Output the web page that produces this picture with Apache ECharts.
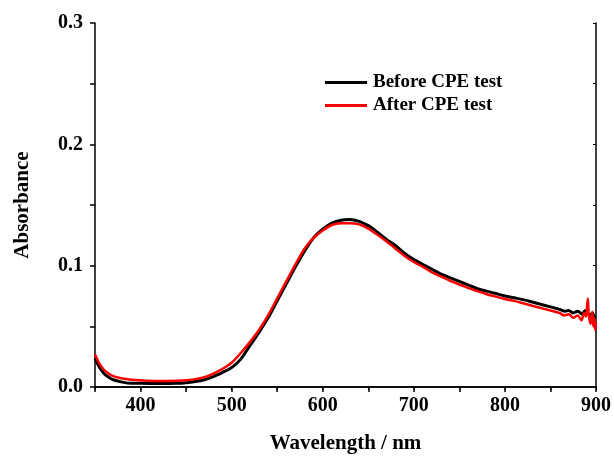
<!DOCTYPE html>
<html>
<head>
<meta charset="utf-8">
<script src="https://cdn.jsdelivr.net/npm/echarts@6/dist/echarts.min.js"></script>
<style>html,body{margin:0;padding:0;background:#fff;}#c{width:614px;height:459px;}</style>
</head>
<body>
<div id="c"></div>
<script>
// Before CPE test (black)
var beforeWl = [350,355,360,365,370,380,390,400,420,440,450,460,470,480,490,500,510,520,530,540,550,560,570,580,590,600,610,620,630,640,650,660,670,680,690,700,710,720,730,740,750,760,770,780,790,800,810,820,830,840,850,860,866,870,875,880,885,888,890,893,896,898,900];
var beforeAbs = [0.024,0.016,0.011,0.008,0.006,0.004,0.003,0.003,0.0028,0.003,0.0035,0.0045,0.006,0.0085,0.012,0.016,0.023,0.034,0.045,0.057,0.071,0.085,0.099,0.112,0.123,0.130,0.135,0.1375,0.138,0.1365,0.133,0.1275,0.1215,0.1165,0.110,0.105,0.101,0.097,0.093,0.090,0.087,0.084,0.081,0.079,0.077,0.075,0.0735,0.072,0.070,0.068,0.066,0.064,0.0625,0.063,0.061,0.0625,0.060,0.063,0.061,0.059,0.061,0.058,0.057];
// After CPE test (red)
var afterWl = [350,355,360,365,370,380,390,400,420,440,450,460,470,480,490,500,510,520,530,540,550,560,570,580,590,600,610,620,630,640,650,660,670,680,690,700,710,720,730,740,750,760,770,780,790,800,810,820,830,840,850,860,865,870,875,880,884,887,889,891,892,894,896,897,898,899,900];
var afterAbs = [0.027,0.019,0.014,0.011,0.009,0.007,0.006,0.0055,0.005,0.0052,0.0055,0.0065,0.008,0.011,0.015,0.020,0.028,0.037,0.047,0.059,0.073,0.087,0.101,0.114,0.123,0.129,0.1335,0.135,0.135,0.134,0.1305,0.1255,0.120,0.114,0.108,0.103,0.099,0.0945,0.091,0.0875,0.0845,0.0815,0.079,0.0765,0.0745,0.0725,0.071,0.069,0.067,0.065,0.063,0.061,0.059,0.060,0.057,0.059,0.055,0.061,0.058,0.073,0.060,0.052,0.062,0.050,0.057,0.047,0.053];
var seriesNames = ['Before CPE test','After CPE test'];
var xTitle = 'Wavelength / nm';
var yTitle = 'Absorbance';

function pairs(xs, ys){ return xs.map(function(x,i){return [x, ys[i]];}); }
var font = '"Liberation Serif","Times New Roman",serif';
var chart = echarts.init(document.getElementById('c'), null, {renderer:'canvas'});
var axisLine = {show:true, lineStyle:{color:'#000', width:1.5}};
chart.setOption({
  animation:false,
  backgroundColor:'#fff',
  grid:{left:95, right:18, top:23, bottom:69, containLabel:false},
  legend:{
    orient:'vertical', left:325, top:73, itemGap:4, padding:0,
    itemWidth:42, itemHeight:3, icon:'rect',
    textStyle:{fontFamily:font, fontWeight:'bold', fontSize:19, color:'#000', padding:[0,0,0,1]},
    data:seriesNames
  },
  xAxis:[{
    type:'value', min:350, max:900, interval:50,
    name:xTitle, nameLocation:'middle', nameGap:46,
    nameTextStyle:{fontFamily:font, fontWeight:'bold', fontSize:21, color:'#000'},
    axisLine:axisLine, splitLine:{show:false},
    axisTick:{show:true, inside:false, length:5, lineStyle:{color:'#000', width:1.5}},
    axisLabel:{margin:9, fontFamily:font, fontWeight:'bold', fontSize:20, color:'#000',
      formatter:function(v){return (v%100===0)? String(v) : '';}}
  },{
    type:'value', min:350, max:900, interval:50, position:'top',
    axisLine:axisLine, splitLine:{show:false},
    axisTick:{show:true, inside:true, length:3, lineStyle:{color:'#000', width:1}},
    axisLabel:{show:false}
  }],
  yAxis:[{
    type:'value', min:0, max:0.3, interval:0.05,
    name:yTitle, nameLocation:'middle', nameGap:62,
    nameTextStyle:{fontFamily:font, fontWeight:'bold', fontSize:21, color:'#000'},
    axisLine:axisLine, splitLine:{show:false},
    axisTick:{show:true, inside:false, length:5, lineStyle:{color:'#000', width:1.5}},
    axisLabel:{margin:12, fontFamily:font, fontWeight:'bold', fontSize:20, color:'#000',
      formatter:function(v){var r=Math.round(v*100); return (r%10===0)? (r/100).toFixed(1) : '';}}
  },{
    type:'value', min:0, max:0.3, interval:0.05, position:'right',
    axisLine:axisLine, splitLine:{show:false},
    axisTick:{show:true, inside:true, length:3, lineStyle:{color:'#000', width:1}},
    axisLabel:{show:false}
  }],
  series:[{
    name:seriesNames[0], type:'line', xAxisIndex:0, yAxisIndex:0,
    data:pairs(beforeWl, beforeAbs), showSymbol:false, smooth:0.3,
    lineStyle:{color:'#000', width:3}, itemStyle:{color:'#000'}
  },{
    name:seriesNames[1], type:'line', xAxisIndex:0, yAxisIndex:0,
    data:pairs(afterWl, afterAbs), showSymbol:false, smooth:0.3,
    lineStyle:{color:'#ff0000', width:2.5}, itemStyle:{color:'#ff0000'}
  }]
});
</script>
</body>
</html>
